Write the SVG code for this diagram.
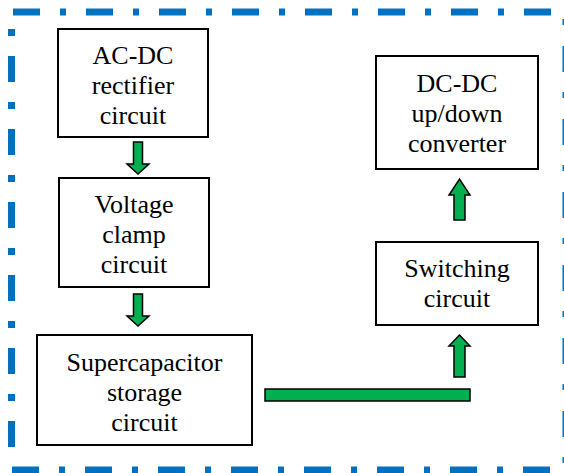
<svg xmlns="http://www.w3.org/2000/svg" width="564" height="473" viewBox="0 0 564 473">
<style>
.bd{stroke:#0070C0;stroke-width:7;fill:none}
.box rect{fill:#fff;stroke:#000;stroke-width:2}
.box text{font-size:26px;fill:#000;text-anchor:middle}
.ar{fill:#00B050;stroke:#000;stroke-width:1.5;stroke-linejoin:miter}
</style>
<rect width="564" height="473" fill="#fff"/>
<g id="border">
<line class="bd" x1="13" y1="12" x2="564" y2="12" stroke-dasharray="27 20 6 20"/>
<line class="bd" x1="12" y1="470" x2="564" y2="470" stroke-dasharray="27 20 6 20"/>
<line class="bd" x1="11.5" y1="29" x2="11.5" y2="466" stroke-dasharray="7 20 26 20"/>
<line class="bd" x1="566" y1="19" x2="566" y2="466" stroke-dasharray="6 21 26 20"/>
</g>
<g font-family="Liberation Serif, Tinos, DejaVu Serif, serif">
<g id="n1" class="box"><rect x="58" y="29" width="150" height="108"/><text x="133" y="64">AC-DC</text><text x="133" y="94">rectifier</text><text x="133" y="124">circuit</text></g>
<g id="n2" class="box"><rect x="59" y="178" width="150" height="109"/><text x="134" y="213">Voltage</text><text x="134" y="243">clamp</text><text x="134" y="273">circuit</text></g>
<g id="n3" class="box"><rect x="37" y="335" width="215" height="110"/><text x="144.5" y="371">Supercapacitor</text><text x="144.5" y="401">storage</text><text x="144.5" y="431">circuit</text></g>
<g id="n4" class="box"><rect x="376" y="56" width="162" height="113"/><text x="457" y="92">DC-DC</text><text x="457" y="122">up/down</text><text x="457" y="152">converter</text></g>
<g id="n5" class="box"><rect x="376" y="242" width="162" height="83"/><text x="457" y="277">Switching</text><text x="457" y="307">circuit</text></g>
</g>
<g id="connectors">
<path class="ar" d="M133.5 142 H142.5 V164 H149 L138 174 L127 164 H133.5 Z"/>
<path class="ar" d="M133.5 294 H142.5 V316 H149 L138 326 L127 316 H133.5 Z"/>
<rect class="ar" x="265" y="389" width="205" height="12"/>
<path class="ar" d="M454 377 H465 V346 H470 L459.5 335 L449 346 H454 Z"/>
<path class="ar" d="M454 220 H465 V195 H470 L459.5 179 L449 195 H454 Z"/>
</g>
</svg>
